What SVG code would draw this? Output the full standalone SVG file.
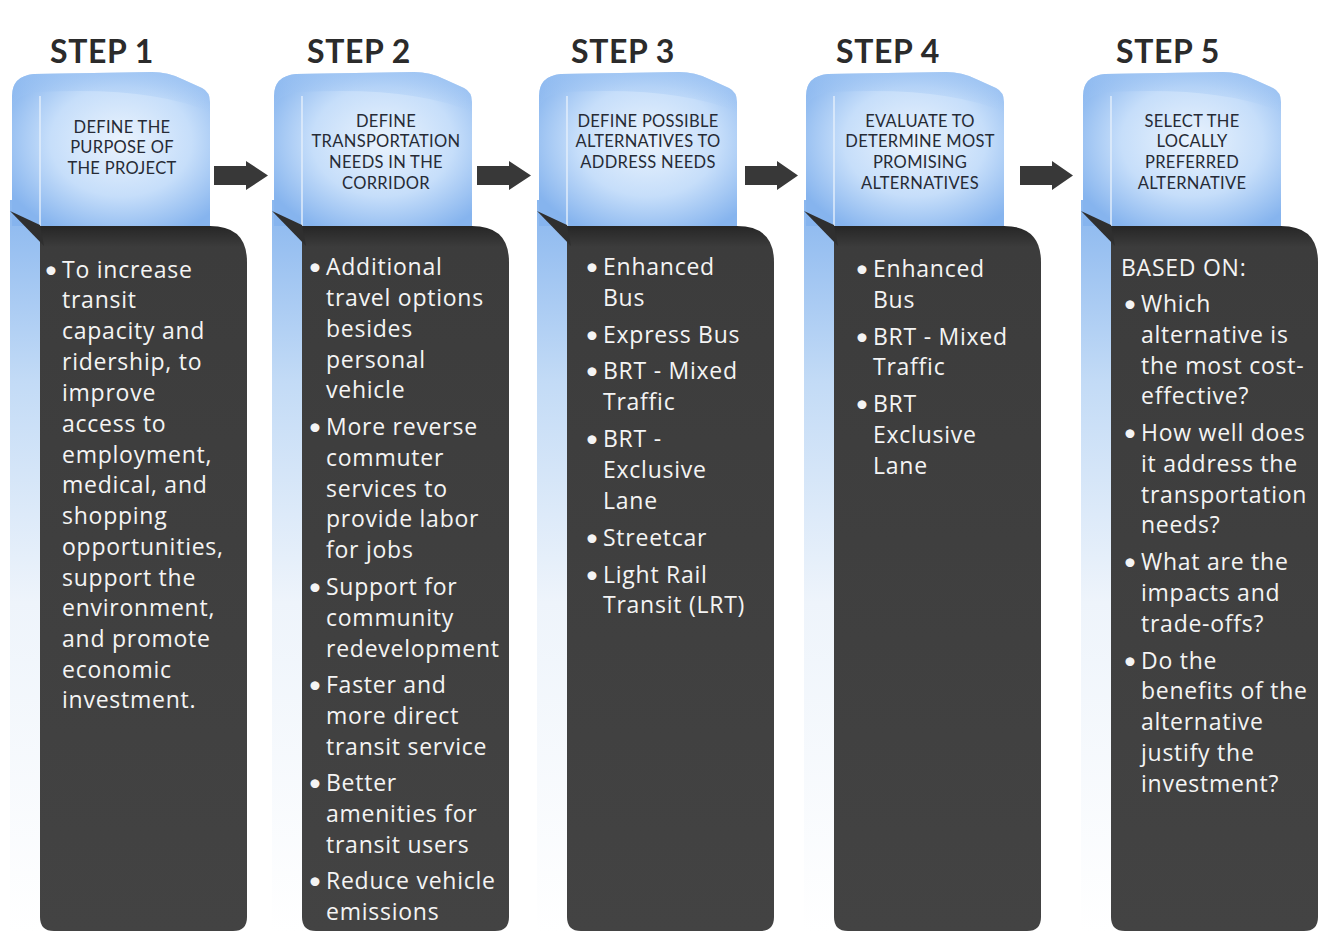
<svg xmlns="http://www.w3.org/2000/svg" xmlns:xlink="http://www.w3.org/1999/xlink" width="1326" height="932" viewBox="0 0 1326 932">
<style>
.step{font-family:Lato,"Open Sans","Liberation Sans",sans-serif;font-weight:700;font-size:32px;letter-spacing:0.6px;fill:#2b2b2b}
.head{font-family:Lato,"Open Sans","Liberation Sans",sans-serif;font-size:16.5px;letter-spacing:0.3px;fill:#262b36;text-anchor:middle}
.body{font-family:"Open Sans",Lato,"Liberation Sans",sans-serif;font-size:23px;letter-spacing:0.75px;fill:#f4f4f4}
.b{font-family:Lato,"Liberation Sans",sans-serif;font-size:24px}
.arrow{fill:#383838}
</style>
<defs>
<radialGradient id="blueG" cx="0.55" cy="0.45" r="0.65">
<stop offset="0" stop-color="#eaf3fd"/>
<stop offset="0.55" stop-color="#c6defa"/>
<stop offset="1" stop-color="#86b4ee"/>
</radialGradient>
<linearGradient id="stripG" x1="0" y1="0" x2="0" y2="1">
<stop offset="0" stop-color="#8ab7ef"/>
<stop offset="0.25" stop-color="#c3dbf6"/>
<stop offset="0.55" stop-color="#eef4fb"/>
<stop offset="1" stop-color="#ffffff"/>
</linearGradient>
<linearGradient id="cardG" x1="0" y1="0" x2="0" y2="1">
<stop offset="0" stop-color="#262626"/>
<stop offset="0.03" stop-color="#3c3c3c"/>
<stop offset="1" stop-color="#434343"/>
</linearGradient>
<linearGradient id="topG" x1="0" y1="0" x2="0" y2="1">
<stop offset="0" stop-color="#9cc3f3"/>
<stop offset="1" stop-color="#9cc3f3" stop-opacity="0"/>
</linearGradient>
<g id="col">
<rect x="10" y="200" width="32" height="732" fill="url(#stripG)"/>
<path d="M12,96 Q12,76 34,74 L152,72 Q168,72 182,79 L202,88 Q210,92 210,102 L210,226 L12,226 Z" fill="url(#blueG)"/>
<path d="M12,96 Q12,76 34,74 L152,72 Q168,72 182,79 L202,88 Q210,92 210,102 L210,112 Q150,86 40,92 Q14,94 12,110 Z" fill="url(#topG)" opacity="0.7"/>
<line x1="40" y1="96" x2="40" y2="226" stroke="#e6f0fc" stroke-width="2" opacity="0.7"/>
<path d="M40,226 H210 Q247,226 247,262 V917 Q247,931 233,931 H54 Q40,931 40,917 Z" fill="url(#cardG)"/>
<path d="M10,211 L40,225 L44,246 Z" fill="#2f2f2f"/>
</g>
</defs>

<g id="step1">
<use xlink:href="#col" x="0"/>
<text class="step" x="50" y="63">STEP 1</text>
<text class="head"><tspan x="122" y="133">DEFINE THE</tspan><tspan x="122" y="153">PURPOSE OF</tspan><tspan x="122" y="174">THE PROJECT</tspan></text>
<text class="body">
<tspan class="b" x="44" y="278">•</tspan><tspan x="62" y="278">To increase</tspan>
<tspan x="62" y="308">transit</tspan>
<tspan x="62" y="339">capacity and</tspan>
<tspan x="62" y="370">ridership, to</tspan>
<tspan x="62" y="401">improve</tspan>
<tspan x="62" y="432">access to</tspan>
<tspan x="62" y="463">employment,</tspan>
<tspan x="62" y="493">medical, and</tspan>
<tspan x="62" y="524">shopping</tspan>
<tspan x="62" y="555">opportunities,</tspan>
<tspan x="62" y="586">support the</tspan>
<tspan x="62" y="616">environment,</tspan>
<tspan x="62" y="647">and promote</tspan>
<tspan x="62" y="678">economic</tspan>
<tspan x="62" y="708">investment.</tspan>
</text>
</g>

<g id="step2">
<use xlink:href="#col" x="262"/>
<text class="step" x="307" y="63">STEP 2</text>
<text class="head"><tspan x="386" y="127">DEFINE</tspan><tspan x="386" y="147">TRANSPORTATION</tspan><tspan x="386" y="168">NEEDS IN THE</tspan><tspan x="386" y="189">CORRIDOR</tspan></text>
<text class="body">
<tspan class="b" x="308" y="275">•</tspan><tspan x="326" y="275">Additional</tspan>
<tspan x="326" y="306">travel options</tspan>
<tspan x="326" y="337">besides</tspan>
<tspan x="326" y="368">personal</tspan>
<tspan x="326" y="398">vehicle</tspan>
<tspan class="b" x="308" y="435">•</tspan><tspan x="326" y="435">More reverse</tspan>
<tspan x="326" y="466">commuter</tspan>
<tspan x="326" y="497">services to</tspan>
<tspan x="326" y="527">provide labor</tspan>
<tspan x="326" y="558">for jobs</tspan>
<tspan class="b" x="308" y="595">•</tspan><tspan x="326" y="595">Support for</tspan>
<tspan x="326" y="626">community</tspan>
<tspan x="326" y="657">redevelopment</tspan>
<tspan class="b" x="308" y="693">•</tspan><tspan x="326" y="693">Faster and</tspan>
<tspan x="326" y="724">more direct</tspan>
<tspan x="326" y="755">transit service</tspan>
<tspan class="b" x="308" y="791">•</tspan><tspan x="326" y="791">Better</tspan>
<tspan x="326" y="822">amenities for</tspan>
<tspan x="326" y="853">transit users</tspan>
<tspan class="b" x="308" y="889">•</tspan><tspan x="326" y="889">Reduce vehicle</tspan>
<tspan x="326" y="920">emissions</tspan>
</text>
</g>

<g id="step3">
<use xlink:href="#col" x="527"/>
<text class="step" x="571" y="63">STEP 3</text>
<text class="head"><tspan x="648" y="127">DEFINE POSSIBLE</tspan><tspan x="648" y="147">ALTERNATIVES TO</tspan><tspan x="648" y="168">ADDRESS NEEDS</tspan></text>
<text class="body">
<tspan class="b" x="585" y="275">•</tspan><tspan x="603" y="275">Enhanced</tspan>
<tspan x="603" y="306">Bus</tspan>
<tspan class="b" x="585" y="343">•</tspan><tspan x="603" y="343">Express Bus</tspan>
<tspan class="b" x="585" y="379">•</tspan><tspan x="603" y="379">BRT - Mixed</tspan>
<tspan x="603" y="410">Traffic</tspan>
<tspan class="b" x="585" y="447">•</tspan><tspan x="603" y="447">BRT -</tspan>
<tspan x="603" y="478">Exclusive</tspan>
<tspan x="603" y="509">Lane</tspan>
<tspan class="b" x="585" y="546">•</tspan><tspan x="603" y="546">Streetcar</tspan>
<tspan class="b" x="585" y="583">•</tspan><tspan x="603" y="583">Light Rail</tspan>
<tspan x="603" y="613">Transit (LRT)</tspan>
</text>
</g>

<g id="step4">
<use xlink:href="#col" x="794"/>
<text class="step" x="836" y="63">STEP 4</text>
<text class="head"><tspan x="920" y="127">EVALUATE TO</tspan><tspan x="920" y="147">DETERMINE MOST</tspan><tspan x="920" y="168">PROMISING</tspan><tspan x="920" y="189">ALTERNATIVES</tspan></text>
<text class="body">
<tspan class="b" x="855" y="277">•</tspan><tspan x="873" y="277">Enhanced</tspan>
<tspan x="873" y="308">Bus</tspan>
<tspan class="b" x="855" y="345">•</tspan><tspan x="873" y="345">BRT - Mixed</tspan>
<tspan x="873" y="375">Traffic</tspan>
<tspan class="b" x="855" y="412">•</tspan><tspan x="873" y="412">BRT</tspan>
<tspan x="873" y="443">Exclusive</tspan>
<tspan x="873" y="474">Lane</tspan>
</text>
</g>

<g id="step5">
<use xlink:href="#col" x="1071"/>
<text class="step" x="1116" y="63">STEP 5</text>
<text class="head"><tspan x="1192" y="127">SELECT THE</tspan><tspan x="1192" y="147">LOCALLY</tspan><tspan x="1192" y="168">PREFERRED</tspan><tspan x="1192" y="189">ALTERNATIVE</tspan></text>
<text class="body">
<tspan x="1121" y="276">BASED ON:</tspan>
<tspan class="b" x="1123" y="312">•</tspan><tspan x="1141" y="312">Which</tspan>
<tspan x="1141" y="343">alternative is</tspan>
<tspan x="1141" y="374">the most cost-</tspan>
<tspan x="1141" y="404">effective?</tspan>
<tspan class="b" x="1123" y="441">•</tspan><tspan x="1141" y="441">How well does</tspan>
<tspan x="1141" y="472">it address the</tspan>
<tspan x="1141" y="503">transportation</tspan>
<tspan x="1141" y="533">needs?</tspan>
<tspan class="b" x="1123" y="570">•</tspan><tspan x="1141" y="570">What are the</tspan>
<tspan x="1141" y="601">impacts and</tspan>
<tspan x="1141" y="632">trade-offs?</tspan>
<tspan class="b" x="1123" y="669">•</tspan><tspan x="1141" y="669">Do the</tspan>
<tspan x="1141" y="699">benefits of the</tspan>
<tspan x="1141" y="730">alternative</tspan>
<tspan x="1141" y="761">justify the</tspan>
<tspan x="1141" y="792">investment?</tspan>
</text>
</g>

<g id="connectors">
<path class="arrow" d="M214,166 H246 V161 L268,175.5 L246,190 V185 H214 Z"/>
<path class="arrow" d="M477,166 H509 V161 L531,175.5 L509,190 V185 H477 Z"/>
<path class="arrow" d="M745,166 H777 V161 L798,175.5 L777,190 V185 H745 Z"/>
<path class="arrow" d="M1020,166 H1052 V161 L1073,175.5 L1052,190 V185 H1020 Z"/>
</g>
</svg>
